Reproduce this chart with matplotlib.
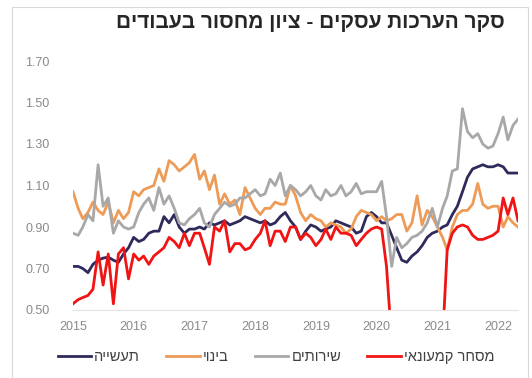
import matplotlib
matplotlib.use('Agg')
import matplotlib.pyplot as plt
import matplotlib.dates as mdates
import pandas as pd
from matplotlib.patches import Rectangle

# monthly index, Jan 2015 - May 2022
months = pd.date_range('2015-01-01', periods=89, freq='MS')

industry = [0.71, 0.71, 0.70, 0.68, 0.72, 0.74, 0.75, 0.755, 0.74, 0.73, 0.77, 0.80,
            0.85, 0.83, 0.84, 0.87, 0.88, 0.88, 0.95, 0.92, 0.96, 0.90, 0.87, 0.89,
            0.89, 0.90, 0.89, 0.92, 0.91, 0.92, 0.93, 0.91, 0.92, 0.93, 0.95, 0.94,
            0.93, 0.92, 0.93, 0.91, 0.92, 0.95, 0.97, 0.93, 0.90, 0.84, 0.88, 0.91,
            0.90, 0.88, 0.89, 0.90, 0.93, 0.92, 0.91, 0.90, 0.87, 0.88, 0.95, 0.97,
            0.95, 0.92, 0.92, 0.86, 0.80, 0.74, 0.73, 0.76, 0.78, 0.81, 0.85, 0.87,
            0.88, 0.90, 0.91, 0.96, 1.00, 1.07, 1.14, 1.18, 1.19, 1.20, 1.19, 1.19,
            1.20, 1.19, 1.16, 1.16, 1.16]

construction = [1.07, 0.99, 0.94, 0.97, 1.02, 0.98, 0.96, 1.02, 0.92, 0.98, 0.94, 0.97,
                1.07, 1.05, 1.08, 1.09, 1.10, 1.18, 1.12, 1.22, 1.20, 1.17, 1.19, 1.21,
                1.25, 1.13, 1.17, 1.08, 1.15, 1.01, 1.06, 1.01, 1.03, 0.96, 1.09, 1.04,
                0.99, 0.96, 0.99, 0.99, 1.02, 1.01, 1.01, 1.10, 1.05, 0.97, 0.93, 0.96,
                0.94, 0.93, 0.90, 0.92, 0.91, 0.90, 0.87, 0.89, 0.95, 0.98, 0.97, 0.96,
                0.93, 0.95, 0.93, 0.94, 0.96, 0.96, 0.88, 0.92, 1.05, 0.91, 0.98, 0.95,
                0.90, 0.85, 0.79, 0.90, 0.96, 0.98, 0.98, 1.01, 1.11, 1.01, 0.99, 1.00,
                1.00, 0.90, 0.95, 0.92, 0.90]

services = [0.87, 0.86, 0.90, 0.96, 0.93, 1.20, 1.00, 1.04, 0.87, 0.93, 0.90, 0.89,
            0.90, 0.97, 1.01, 1.04, 0.98, 1.09, 1.01, 1.05, 0.99, 0.92, 0.91, 0.94,
            0.96, 0.99, 0.92, 0.90, 0.96, 0.99, 1.02, 1.00, 1.01, 1.04, 1.04, 1.06,
            1.08, 1.05, 1.06, 1.13, 1.10, 1.16, 1.05, 1.10, 1.08, 1.05, 1.07, 1.10,
            1.05, 1.03, 1.08, 1.05, 1.06, 1.10, 1.05, 1.07, 1.11, 1.06, 1.07, 1.07,
            1.07, 1.12, 0.95, 0.71, 0.85, 0.80, 0.82, 0.85, 0.86, 0.88, 0.92, 0.99,
            0.90, 0.99, 1.05, 1.17, 1.18, 1.47, 1.36, 1.33, 1.35, 1.30, 1.28, 1.29,
            1.35, 1.43, 1.32, 1.39, 1.42]

retail = [0.53, 0.55, 0.56, 0.57, 0.60, 0.78, 0.62, 0.77, 0.53, 0.77, 0.80, 0.65,
          0.77, 0.74, 0.76, 0.72, 0.76, 0.78, 0.80, 0.85, 0.83, 0.80, 0.87, 0.81,
          0.87, 0.87, 0.80, 0.72, 0.90, 0.88, 0.93, 0.78, 0.82, 0.82, 0.79, 0.80,
          0.84, 0.87, 0.93, 0.81, 0.88, 0.88, 0.83, 0.90, 0.90, 0.84, 0.87, 0.85,
          0.81, 0.84, 0.89, 0.84, 0.90, 0.87, 0.87, 0.86, 0.81, 0.84, 0.87, 0.89,
          0.90, 0.89, 0.71, 0.35, 0.30, 0.30, 0.30, 0.30, 0.30, 0.30, 0.30, 0.30,
          0.30, 0.35, 0.79, 0.87, 0.90, 0.91, 0.90, 0.86, 0.84, 0.84, 0.85, 0.86,
          0.88, 1.04, 0.96, 1.04, 0.93]

labels = ['תעשייה', 'בינוי', 'שירותים', 'מסחר קמעונאי']
colors = ['#2E2A5C', '#EE9B57', '#A8A8A8', '#F01414']
title = 'סקר הערכות עסקים - ציון מחסור בעבודים'
yticks = [0.50, 0.70, 0.90, 1.10, 1.30, 1.50, 1.70]


def heb(s):
    # matplotlib has no bidi support, so flip hebrew for display
    return s[::-1]


plt.rcParams['font.family'] = ['Liberation Sans', 'DejaVu Sans']

fig = plt.figure(figsize=(5.32, 3.78), dpi=100)
ax = fig.add_axes([73 / 532, 1 - 310 / 378, 445 / 532, 249 / 378])

series = [industry, construction, services, retail]
lines = []
for vals, lab, col in zip(series, labels, colors):
    ln, = ax.plot(months, vals, color=col, lw=2.0, label=heb(lab), solid_joinstyle='round')
    lines.append(ln)

ax.set_ylim(0.5, 1.7)
ax.set_xlim(months[0], months[-1])
ax.set_yticks(yticks)
ax.set_yticklabels(['%.2f' % t for t in yticks])
ax.xaxis.set_major_locator(mdates.YearLocator())
ax.xaxis.set_major_formatter(mdates.DateFormatter('%Y'))
ax.tick_params(axis='both', length=0, labelsize=9, colors='#8A8A8A')
ax.tick_params(axis='y', pad=17)
ax.tick_params(axis='x', pad=8)
for s in ['top', 'right', 'left']:
    ax.spines[s].set_visible(False)
ax.spines['bottom'].set_color('#E3E3E3')

fig.text(505 / 532, 1 - 22 / 378, heb(title), ha='right', va='center',
         fontsize=15, fontweight='bold', color='#262626')

fig.legend(handles=lines, loc='center', bbox_to_anchor=(276 / 532, 1 - 357 / 378),
           ncol=4, frameon=False, fontsize=10.5, handlelength=2.3, handletextpad=0.2,
           columnspacing=1.8, labelcolor='#404040')

# chart area frame
fig.patches.append(Rectangle((12 / 532, -0.01), 516 / 532, 1 - 7 / 378 + 0.01,
                             transform=fig.transFigure, fill=False,
                             edgecolor='#D9D9D9', lw=0.8))

fig.savefig('out.png', dpi=100)
